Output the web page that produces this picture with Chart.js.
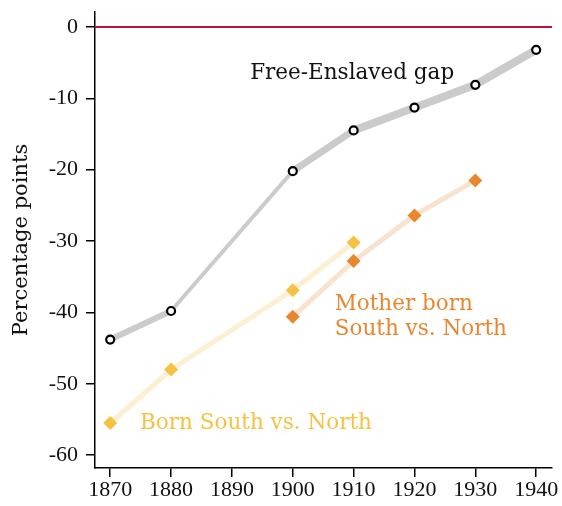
<!DOCTYPE html>
<html>
<head>
<meta charset="utf-8">
<script src="https://cdn.jsdelivr.net/npm/chart.js@4"></script>
<style>
  html, body { margin: 0; padding: 0; background: #fff; }
  #wrap { width: 562px; height: 506px; }
</style>
</head>
<body>
<div id="wrap"><canvas id="chart"></canvas></div>
<script>
// Data
const gapYears = [1870, 1880, 1900, 1910, 1920, 1930, 1940];
const gapValues = [-43.8, -39.8, -20.2, -14.5, -11.3, -8.1, -3.2];
const bornYears = [1870, 1880, 1900, 1910];
const bornValues = [-55.5, -48.0, -36.9, -30.2];
const motherYears = [1900, 1910, 1920, 1930];
const motherValues = [-40.6, -32.8, -26.4, -21.5];
const xTicks = [1870, 1880, 1890, 1900, 1910, 1920, 1930, 1940];
const yTicks = [0, -10, -20, -30, -40, -50, -60];

const TICKFONT = '"Liberation Serif", "DejaVu Serif", serif';
const TEXTFONT = '"DejaVu Serif", "Liberation Serif", serif';

function toPoints(xs, ys) {
    return xs.map((x, i) => ({ x: x, y: ys[i] }));
}

// band width per segment of the gray line
const gapWidths = [6, 4, 7, 8, 8, 8];

// zero line + text labels
const overlay = {
    id: 'overlay',
    beforeDatasetsDraw(chart) {
        const { ctx, chartArea, scales } = chart;
        const y0 = scales.y.getPixelForValue(0);
        ctx.save();
        ctx.strokeStyle = '#c40f3a';
        ctx.lineWidth = 2;
        ctx.beginPath();
        ctx.moveTo(chartArea.left, y0);
        ctx.lineTo(chartArea.right, y0);
        ctx.stroke();
        ctx.restore();
    },
    afterDatasetsDraw(chart) {
        const { ctx, scales } = chart;
        const put = (txt, xv, yv, color) => {
            ctx.fillStyle = color;
            ctx.fillText(txt, scales.x.getPixelForValue(xv), scales.y.getPixelForValue(yv));
        };
        ctx.save();
        ctx.font = '21.5px ' + TEXTFONT;
        ctx.textBaseline = 'middle';
        ctx.textAlign = 'left';
        put('Free-Enslaved gap', 1893.0, -6.5, '#111');
        put('Mother born', 1906.9, -38.9, '#e8872e');
        put('South vs. North', 1906.9, -42.4, '#e8872e');
        put('Born South vs. North', 1874.9, -55.5, '#f5c242');
        ctx.restore();
    }
};

new Chart(document.getElementById('chart'), {
    type: 'line',
    data: {
        datasets: [
            {
                label: 'Free-Enslaved gap',
                data: toPoints(gapYears, gapValues),
                borderColor: '#cbcbcb',
                borderWidth: 6,
                segment: {
                    borderWidth: c => gapWidths[c.p0DataIndex]
                },
                pointStyle: 'circle',
                pointRadius: 4,
                pointBorderWidth: 2.2,
                pointBorderColor: '#000',
                pointBackgroundColor: '#fff',
                order: 3
            },
            {
                label: 'Born South vs. North',
                data: toPoints(bornYears, bornValues),
                borderColor: '#fcefd2',
                borderWidth: 5,
                pointStyle: 'rectRot',
                pointRadius: 7,
                pointBorderWidth: 0,
                pointBackgroundColor: '#f5c242',
                order: 2
            },
            {
                label: 'Mother born South vs. North',
                data: toPoints(motherYears, motherValues),
                borderColor: '#f8e2d0',
                borderWidth: 5,
                pointStyle: 'rectRot',
                pointRadius: 7,
                pointBorderWidth: 0,
                pointBackgroundColor: '#e8872e',
                order: 1
            }
        ]
    },
    options: {
        responsive: true,
        maintainAspectRatio: false,
        animation: false,
        layout: { padding: { top: 12, right: 10, left: 0, bottom: 0 } },
        plugins: {
            legend: { display: false },
            tooltip: { enabled: false }
        },
        scales: {
            x: {
                type: 'linear',
                min: 1867.5,
                max: 1942.6,
                afterBuildTicks: axis => { axis.ticks = xTicks.map(v => ({ value: v })); },
                afterFit: axis => {
                    axis.height = 38;
                    axis.paddingLeft = 0;
                    axis.paddingRight = 0;
                },
                border: { color: '#000', width: 1.5 },
                grid: { drawOnChartArea: false, color: '#000', tickLength: 9, lineWidth: 1.5 },
                ticks: {
                    color: '#111',
                    font: { family: TICKFONT, size: 22 },
                    padding: 0,
                    maxRotation: 0,
                    callback: v => String(v)
                }
            },
            y: {
                min: -61.8,
                max: 2.1,
                afterBuildTicks: axis => { axis.ticks = yTicks.map(v => ({ value: v })); },
                afterFit: axis => {
                    axis.width = 95;
                    axis.paddingTop = 0;
                    axis.paddingBottom = 0;
                },
                border: { color: '#000', width: 1.5 },
                grid: { drawOnChartArea: false, color: '#000', tickLength: 9, lineWidth: 1.5 },
                title: {
                    display: true,
                    text: 'Percentage points',
                    color: '#111',
                    font: { family: TEXTFONT, size: 21 },
                    padding: { top: 9, bottom: 4 }
                },
                ticks: {
                    color: '#111',
                    font: { family: TICKFONT, size: 22 },
                    padding: 8,
                    callback: v => String(v)
                }
            }
        }
    },
    plugins: [overlay]
});
</script>
</body>
</html>
